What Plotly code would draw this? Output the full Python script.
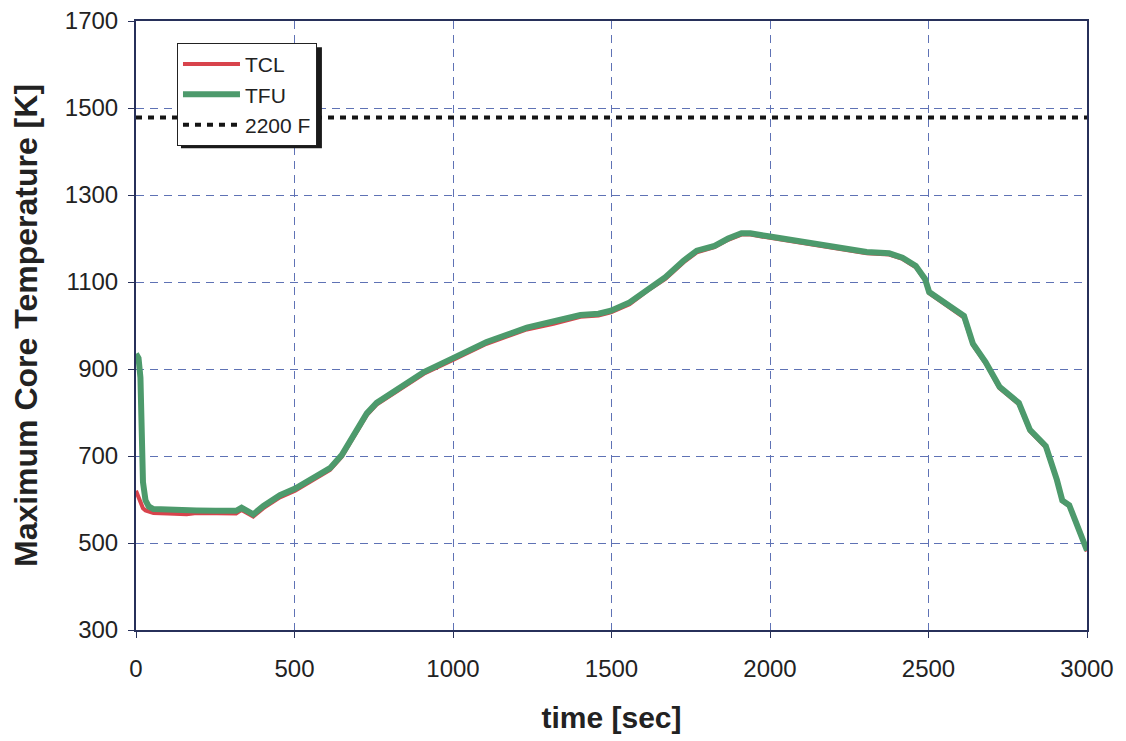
import plotly.graph_objects as go

# time [sec]
time_s = [0, 8, 14, 18, 22, 30, 40, 55, 100, 160, 191, 250, 316, 333, 350, 370, 402, 454,
          502, 559, 612, 649, 686, 728, 759, 812, 864, 908, 1000, 1106, 1233, 1317, 1402,
          1459, 1498, 1557, 1614, 1670, 1727, 1769, 1825, 1868, 1910, 1938, 1995, 2065,
          2164, 2305, 2376, 2418, 2460, 2489, 2502, 2555, 2612, 2640, 2680, 2724, 2785,
          2820, 2870, 2905, 2922, 2944, 3000]

# TFU - max fuel temperature [K]
tfu = [935, 925, 880, 760, 640, 598, 584, 578, 576, 573, 575, 574, 574, 581, 574, 566, 585,
       610, 625, 648, 672, 702, 745, 798, 822, 848, 873, 893, 925, 962, 995, 1008, 1024,
       1027, 1034, 1053, 1084, 1111, 1149, 1172, 1183, 1200, 1212, 1212, 1205, 1197,
       1185, 1169, 1166, 1156, 1137, 1107, 1077, 1050, 1022, 958, 916, 859, 822, 760,
       723, 645, 598, 587, 483]

# TCL - max cladding temperature [K]
tcl = [620, 605, 592, 585, 580, 575, 572, 569, 568, 566, 569, 568, 568, 576, 569, 561, 580,
       605, 620, 644, 668, 698, 741, 794, 818, 844, 869, 889, 921, 958, 991, 1004, 1020,
       1023, 1030, 1049, 1080, 1107, 1145, 1168, 1180, 1197, 1209, 1209, 1202, 1194,
       1182, 1166, 1163, 1153, 1134, 1104, 1074, 1046, 1018, 955, 913, 856, 819, 757,
       720, 643, 596, 585, 481]

limit_label = "2200 F"
limit_value = 1478
x_range = [0, 3000]
y_range = [300, 1700]

fig = go.Figure()
fig.add_trace(go.Scatter(x=time_s, y=tcl, mode="lines", name="TCL",
                         line=dict(color="#d8434c", width=4)))
fig.add_trace(go.Scatter(x=time_s, y=tfu, mode="lines", name="TFU",
                         line=dict(color="#4d9a6c", width=6)))
fig.add_trace(go.Scatter(x=x_range, y=[limit_value, limit_value], mode="lines",
                         name=limit_label,
                         line=dict(color="#151515", width=4, dash="6px,6px")))

# legend shadow
fig.add_shape(type="rect", xref="paper", yref="paper",
              x0=0.0473, x1=0.1955, y0=0.791, y1=0.957,
              fillcolor="#1a1a1a", line=dict(width=0), layer="above")

tick_font = dict(family="Liberation Sans, Arial", size=24, color="#222")
title_font_x = dict(family="Liberation Sans, Arial", size=30, color="#222")
title_font_y = dict(family="Liberation Sans, Arial", size=32, color="#222")

common = dict(showgrid=True, gridcolor="#5f72b5", griddash="8px,6px", gridwidth=1,
              showline=True, linecolor="#27305a", linewidth=2, mirror=True,
              ticks="outside", ticklen=6, tickcolor="#27305a",
              tickfont=tick_font, zeroline=False, automargin=False,
              ticklabeloverflow="allow")

fig.update_layout(
    width=1126, height=741,
    margin=dict(l=128, r=47, t=13, b=119),
    paper_bgcolor="white", plot_bgcolor="white",
    showlegend=True,
    legend=dict(x=0.0431, y=0.964, xanchor="left", yanchor="top",
                bgcolor="white", bordercolor="#222", borderwidth=1,
                font=dict(family="Liberation Sans, Arial", size=21, color="#222"),
                itemwidth=57),
    xaxis=dict(range=x_range, dtick=500, tick0=0, ticklabelstandoff=10,
               title=dict(text="<b>time [sec]</b>", font=title_font_x, standoff=26),
               **common),
    yaxis=dict(range=y_range, dtick=200, tick0=300, ticklabelstandoff=5,
               title=dict(text="<b>Maximum Core Temperature [K]</b>", font=title_font_y,
                          standoff=18),
               **common),
)

fig.write_html("out.html")
